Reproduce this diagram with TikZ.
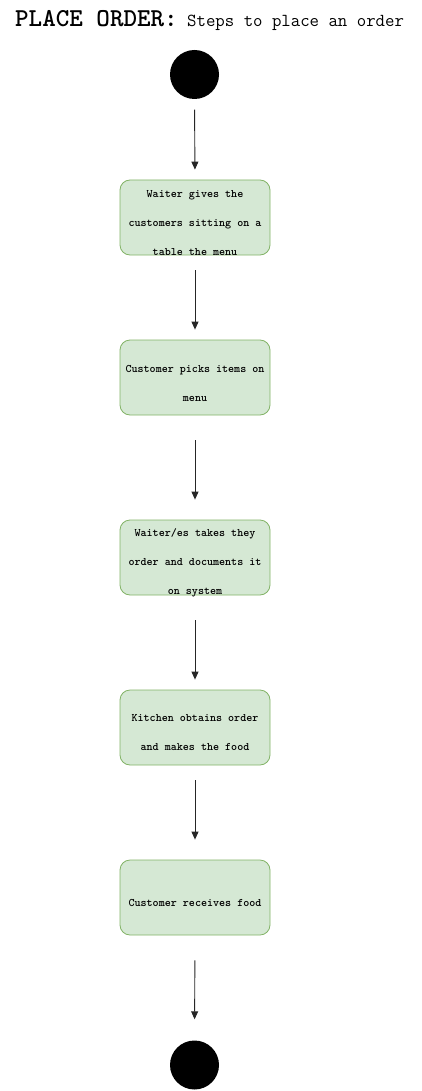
\documentclass[tikz,border=0pt]{standalone}
\usetikzlibrary{arrows.meta}
\definecolor{boxfill}{HTML}{D5E8D4}
\definecolor{boxline}{HTML}{82B366}
\tikzset{stepbox/.style={draw=boxline,line width=0.8pt,fill=boxfill,rounded corners=10pt,minimum width=150pt,minimum height=75pt,inner sep=0pt}}
\tikzset{steptext/.style={align=center,inner sep=0pt,font=\ttfamily\fontsize{11.5}{29}\selectfont\bfseries}}
\tikzset{endpoint/.style={circle,fill=black,minimum size=49pt,inner sep=0pt}}
\tikzset{flow/.style={draw=black!85,line width=0.9pt,-{Triangle[length=8pt,width=7pt]}}}

\begin{document}
\begin{tikzpicture}[x=1pt,y=-1pt]
    \useasboundingbox (0,0) rectangle (421,1091);
    % title
    \node[anchor=base west,inner sep=0pt,font=\ttfamily\fontsize{25.8}{28}\selectfont\bfseries] (title) at (15,27) {PLACE ORDER:};
    \node[anchor=base west,inner sep=0pt,font=\ttfamily\fontsize{18.3}{21}\selectfont] (subtitle) at (187,27) {Steps to place an order};
    % nodes
    \node[endpoint] (start) at (194.5,74.5) {};
    \node[stepbox] (give) at (195,217.5) {};
    \node[steptext] (givetext) at ([yshift=-5.5pt]give.center) {Waiter gives the\\customers sitting on a\\table the menu};
    \node[stepbox] (pick) at (195,377.5) {};
    \node[steptext] (picktext) at ([yshift=-5.5pt]pick.center) {Customer picks items on\\menu};
    \node[stepbox] (take) at (195,557.5) {};
    \node[steptext] (taketext) at ([yshift=-5.5pt]take.center) {Waiter/es takes they\\order and documents it\\on system};
    \node[stepbox] (cook) at (195,727.5) {};
    \node[steptext] (cooktext) at ([yshift=-5.5pt]cook.center) {Kitchen obtains order\\and makes the food};
    \node[stepbox] (serve) at (195,897.5) {};
    \node[steptext] (servetext) at ([yshift=-5.5pt]serve.center) {Customer receives food};
    \node[endpoint] (stop) at (194.5,1065) {};
    % connectors
    \draw[flow,shorten <=10.5pt,shorten >=10pt] (start.south) -- (give.north);
    \draw[flow,shorten <=15pt,shorten >=10pt] (give.south) -- (pick.north);
    \draw[flow,shorten <=25pt,shorten >=20pt] (pick.south) -- (take.north);
    \draw[flow,shorten <=25pt,shorten >=10pt] (take.south) -- (cook.north);
    \draw[flow,shorten <=15pt,shorten >=20pt] (cook.south) -- (serve.north);
    \draw[flow,shorten <=25pt,shorten >=21pt] (serve.south) -- (stop.north);
\end{tikzpicture}
\end{document}
